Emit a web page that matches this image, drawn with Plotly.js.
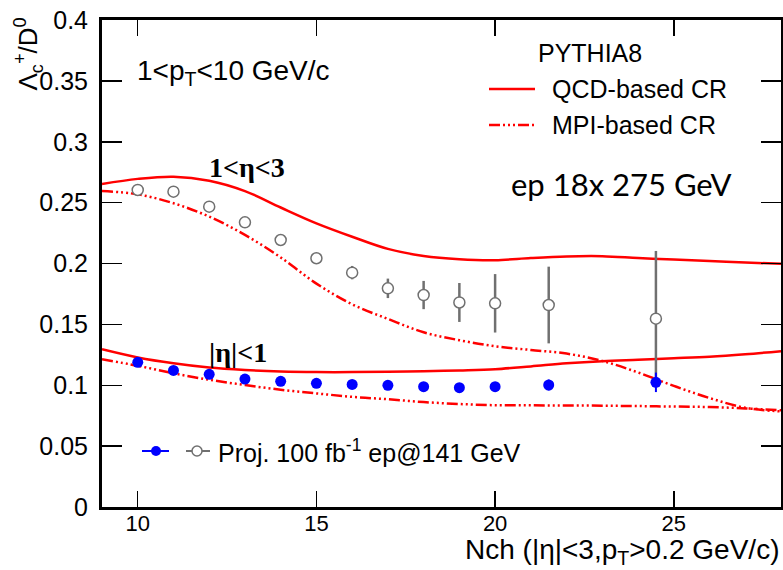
<!DOCTYPE html>
<html>
<head>
<meta charset="utf-8">
<script src="https://cdn.plot.ly/plotly-3.0.1.min.js"></script>
<style>html,body{margin:0;padding:0;background:#fff;}#chart{width:783px;height:570px;}</style>
</head>
<body>
<div id="chart"></div>
<script>
// ---- data ----
const curveX = [9,10,11,12,13,14,15,16,17,18,19,20,21,22,23,24,25,26,27,28];
const qcdFwd = [0.2653,0.2695,0.2713,0.2680,0.2595,0.2460,0.2330,0.2220,0.2120,0.2062,0.2035,0.2027,0.2045,0.2058,0.2060,0.2045,0.2032,0.2021,0.2008,0.1998];
const mpiFwd = [0.2595,0.2568,0.2495,0.2385,0.2235,0.2050,0.1835,0.1665,0.1545,0.1435,0.1370,0.1320,0.1290,0.1260,0.1200,0.1105,0.0995,0.0895,0.0815,0.0785];
const qcdMid = [0.1295,0.1228,0.1180,0.1145,0.1125,0.1113,0.1108,0.1108,0.1110,0.1115,0.1122,0.1132,0.1155,0.1180,0.1198,0.1210,0.1222,0.1235,0.1255,0.1280];
const mpiMid = [0.1213,0.1160,0.1098,0.1045,0.1002,0.0963,0.0933,0.0905,0.0885,0.0862,0.0846,0.0836,0.0835,0.0834,0.0832,0.0829,0.0825,0.0821,0.0810,0.0795];

const projX   = [10,11,12,13,14,15,16,17,18,19,20,21.5,24.5];
const projFwd = [0.2604,0.2590,0.2467,0.2338,0.2193,0.2043,0.1925,0.1796,0.1741,0.1680,0.1673,0.1659,0.1547];
const errFwd  = [0,0,0,0,0,0,0.0055,0.0080,0.0116,0.0160,0.0240,0.0315,0.0556];
const projMid = [0.1188,0.1122,0.1090,0.1051,0.1032,0.1016,0.1007,0.0999,0.0988,0.0980,0.0988,0.1002,0.1024];
const errMid  = [0,0,0,0,0,0,0,0,0,0,0.0020,0.0045,0.0080];

const xTicks = [10,15,20,25];
const yTicks = [0,0.05,0.1,0.15,0.2,0.25,0.3,0.35,0.4];

// ---- styles ----
const RED = '#ff0000';
const DASHDOT = '11px,3px,2px,3px,2px,3px,2px,3px';
const GREY = '#707070';
const BLUE = '#0000ff';
const SANS = 'Liberation Sans, Arial, sans-serif';
const SERIF = 'Liberation Serif, Times New Roman, serif';

const traces = [
  {x: curveX, y: qcdFwd, mode:'lines', line:{color:RED, width:2.5, shape:'spline'}, hoverinfo:'skip'},
  {x: curveX, y: mpiFwd, mode:'lines', line:{color:RED, width:2.5, shape:'spline', dash:DASHDOT}, hoverinfo:'skip'},
  {x: curveX, y: qcdMid, mode:'lines', line:{color:RED, width:2.5, shape:'spline'}, hoverinfo:'skip'},
  {x: curveX, y: mpiMid, mode:'lines', line:{color:RED, width:2.5, shape:'spline', dash:DASHDOT}, hoverinfo:'skip'},
  {x: projX, y: projFwd, mode:'markers',
   marker:{symbol:'circle', size:11, color:'#ffffff', line:{color:GREY, width:1.5}},
   error_y:{type:'data', array:errFwd, visible:true, color:GREY, thickness:2.5, width:0}},
  {x: projX, y: projMid, mode:'markers',
   marker:{symbol:'circle', size:11, color:BLUE, line:{width:0}},
   error_y:{type:'data', array:errMid, visible:true, color:BLUE, thickness:2, width:0}}
];

// helpers: pixel -> paper
const L=102, R=781, T=20, B=507;
const px = v => (v-L)/(R-L);
const py = v => (B-v)/(B-T);

function ann(text, x, y, size, opts){
  return Object.assign({text:text, xref:'paper', yref:'paper', x:px(x), y:py(y),
    showarrow:false, xanchor:'left', yanchor:'middle',
    font:{family:SANS, size:size, color:'#000'}}, opts||{});
}

const annotations = [
  ann('1&lt;p<sub>T</sub>&lt;10 GeV/c', 135, 72, 28),
  ann('PYTHIA8', 536, 53, 25),
  ann('QCD-based CR', 550, 89, 25),
  ann('MPI-based CR', 550, 125, 25),
  ann('ep 18x 275 GeV', 509, 184, 31, {font:{family:'Lato, Carlito, sans-serif',size:31,color:'#000'}}),
  ann('<b>1&lt;η&lt;3</b>', 247, 167, 28, {xanchor:'center', font:{family:SERIF,size:28,color:'#000'}}),
  ann('<b>|η|&lt;1</b>', 238, 352, 28, {xanchor:'center', font:{family:SERIF,size:28,color:'#000'}}),
  ann('Proj. 100 fb<sup>-1</sup> ep@141 GeV', 216, 451, 25),
  ann('Nch (|η|&lt;3,p<sub>T</sub>&gt;0.2 GeV/c)', 781, 551, 28, {xanchor:'right'}),
  ann('Λ<sub>c</sub><sup>+</sup>/D<sup>0</sup>', 28, 16, 26, {textangle:-90, xanchor:'center', yanchor:'top'})
];

const shapes = [
  {type:'line', xref:'paper', yref:'paper', x0:px(489), x1:px(535), y0:py(89), y1:py(89), line:{color:RED, width:2.5}},
  {type:'line', xref:'paper', yref:'paper', x0:px(489), x1:px(535), y0:py(125), y1:py(125), line:{color:RED, width:2.5, dash:DASHDOT}},
  {type:'line', xref:'paper', yref:'paper', x0:px(142), x1:px(169), y0:py(451), y1:py(451), line:{color:BLUE, width:2}},
  {type:'circle', xref:'paper', yref:'paper', x0:px(151), x1:px(161), y0:py(446), y1:py(456), fillcolor:BLUE, line:{color:BLUE, width:0}},
  {type:'line', xref:'paper', yref:'paper', x0:px(186), x1:px(210), y0:py(451), y1:py(451), line:{color:GREY, width:2}},
  {type:'circle', xref:'paper', yref:'paper', x0:px(192), x1:px(202), y0:py(446), y1:py(456), fillcolor:'#ffffff', line:{color:GREY, width:1.5}}
];

const layout = {
  width:783, height:570,
  margin:{l:L, r:783-R, t:T, b:570-B, pad:0},
  paper_bgcolor:'#fff', plot_bgcolor:'#fff',
  showlegend:false,
  font:{family:SANS, color:'#000'},
  xaxis:{range:[9,28], tickvals:xTicks, ticktext:xTicks.map(String),
    showgrid:false, zeroline:false, showline:true, linecolor:'#000', linewidth:3, mirror:'ticks',
    ticks:'inside', ticklen:16, tickwidth:1.5, tickcolor:'#000',
    tickfont:{family:SANS, size:22, color:'#000'}, ticklabelstandoff:-5},
  yaxis:{range:[0,0.4], tickvals:yTicks, ticktext:yTicks.map(v=>String(v)),
    showgrid:false, zeroline:false, showline:true, linecolor:'#000', linewidth:3, mirror:'ticks',
    ticks:'inside', ticklen:20, tickwidth:1.5, tickcolor:'#000',
    tickfont:{family:SANS, size:25, color:'#000'}, ticklabelstandoff:6},
  annotations:annotations,
  shapes:shapes
};

Plotly.newPlot('chart', traces, layout, {staticPlot:true, displayModeBar:false});
</script>
</body>
</html>
